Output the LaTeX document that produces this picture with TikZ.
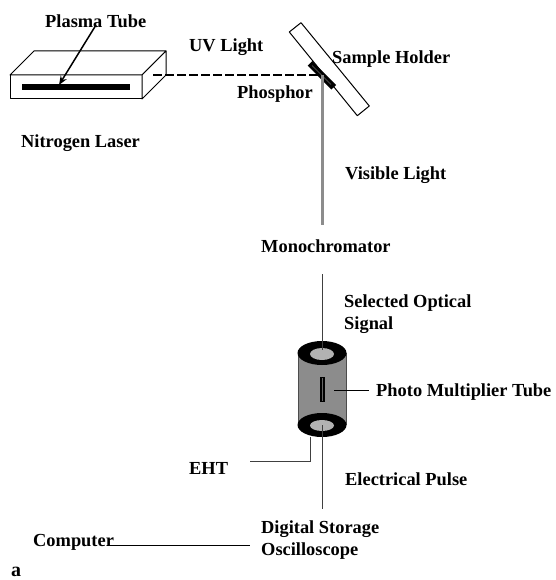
\documentclass[tikz,border=0pt]{standalone}
\usepackage{fontspec}
\usetikzlibrary{arrows.meta}
\setmainfont{Liberation Serif}
\tikzset{
    lbl/.style={anchor=base west, inner sep=0pt, font=\fontsize{18.4}{20}\selectfont\bfseries},
    wire/.style={draw=black!75, line width=1pt},
    casing/.style={draw=black, line width=1pt, fill=white, line join=round},
    lightbeam/.style={draw=black!45, line width=3pt},
    uvbeam/.style={draw=black, line width=2pt, dash pattern=on 8.5pt off 3.5pt},
    pmtend/.style={draw=none, fill=black}
}
\begin{document}
\begin{tikzpicture}[x=1pt, y=-1pt]
    \useasboundingbox (0,0) rectangle (555,580);
    % laser box
    \draw[casing] (10,75) rectangle (142,99);
    \draw[casing] (10,75) -- (34,51) -- (166,51) -- (142,75) -- cycle;
    \draw[casing] (142,75) -- (166,51) -- (166,75) -- (142,99) -- cycle;
    \fill (22,84) rectangle (130,90);
    \coordinate (tube) at (59,85);
    \node[lbl] (plasma) at (45,27.5) {Plasma Tube};
    \draw[-{Stealth[length=9pt, width=7pt]}, line width=1.5pt] (96,25) -- (tube);
    \node[lbl] (uv) at (189,51.5) {UV Light};
    \node[lbl] (laser) at (21,147.5) {Nitrogen Laser};
    % sample holder
    \draw[casing] (301,22.7) -- (289.3,32) -- (357.3,115.7) -- (369.3,106) -- cycle;
    \draw[line width=6.5pt] (310,63.3) -- (333.7,87.3);
    \draw[black!60, line width=0.4pt] (312,65.5) -- (331,84.5);
    \coordinate (spot) at (322,75);
    \coordinate (laserout) at (153,75);
    \draw[uvbeam] (laserout) -- (318,75);
    \node[lbl] (phosphor) at (237,98.5) {Phosphor};
    \node[lbl] (holder) at (332,63.5) {Sample Holder};
    % visible light
    \coordinate (beamend) at (322,225);
    \draw[lightbeam] (spot) -- (beamend);
    \node[lbl] (visible) at (345,179.5) {Visible Light};
    \node[lbl] (mono) at (261,252.5) {Monochromator};
    \node[lbl] (selected) at (344,307.5) {Selected Optical};
    \node[lbl] (signal) at (344,329.5) {Signal};
    % photo multiplier
    \fill[black!45] (298,353) rectangle (346,425);
    \draw[black!70, line width=0.8pt] (298,353) -- (298,425) (346,353) -- (346,425);
    \fill[pmtend] (322,353) ellipse (24.5 and 12);
    \fill[black!30] (322,354) ellipse (12 and 6);
    \fill[pmtend] (322,425) ellipse (24.5 and 12);
    \fill[black!30] (322,425.5) ellipse (12 and 5.5);
    \coordinate (pmttop) at (322,350);
    \coordinate (pmtbot) at (322,425);
    \coordinate (monoout) at (322,274);
    \draw[wire] (monoout) -- (pmttop);
    \draw[line width=5pt] (322,377) -- (322,402);
    \draw[black!60, line width=0.4pt] (322,378) -- (322,401);
    \coordinate (pmtside) at (334,390);
    \node[lbl] (pmt) at (376,396.5) {Photo Multiplier Tube};
    \draw[wire, black] (pmtside) -- (369,390);
    % bottom part
    \node[lbl] (eht) at (189,474.5) {EHT};
    \coordinate (ehtin) at (250,461.5);
    \coordinate (ehtpin) at (310,437);
    \draw[wire] (ehtin) -| (ehtpin);
    \coordinate (dsotop) at (322,509);
    \draw[wire] (pmtbot) -- (dsotop);
    \node[lbl] (pulse) at (345,485.5) {Electrical Pulse};
    \node[lbl] (dso) at (261,533.5) {Digital Storage};
    \node[lbl] (osc) at (261,555.5) {Oscilloscope};
    \node[lbl] (computer) at (33,546) {Computer};
    \coordinate (pcend) at (107,545.5);
    \coordinate (dsoend) at (250,545.5);
    \draw[wire, black] (pcend) -- (dsoend);
    \node[lbl, font=\fontsize{20}{22}\selectfont\bfseries] (panel) at (11,576.5) {a};
\end{tikzpicture}
\end{document}
